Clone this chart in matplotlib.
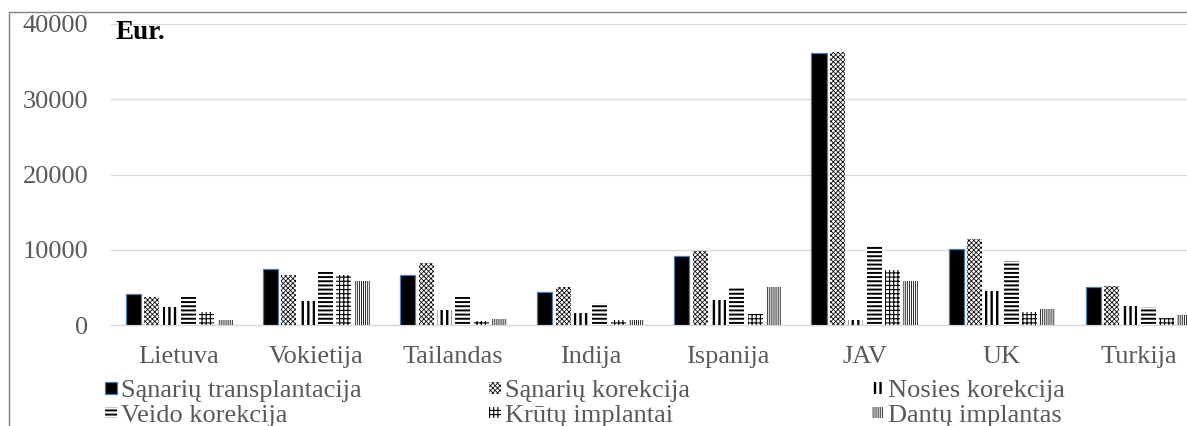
import matplotlib
matplotlib.use("Agg")
import matplotlib.pyplot as plt
import numpy as np
from matplotlib.lines import Line2D
from matplotlib.patches import Rectangle
from matplotlib.legend_handler import HandlerPatch

# ---------------- data ----------------
countries = ["Lietuva", "Vokietija", "Tailandas", "Indija", "Ispanija", "JAV", "UK", "Turkija"]
series_names = ["Sąnarių transplantacija", "Sąnarių korekcija", "Nosies korekcija",
                "Veido korekcija", "Krūtų implantai", "Dantų implantas"]
sanariu_transplantacija = [4100, 7500, 6700, 4400, 9200, 36200, 10100, 5100]
sanariu_korekcija = [3700, 6600, 8300, 5000, 9800, 36300, 11400, 5200]
nosies_korekcija = [2400, 3200, 2000, 1600, 3300, 600, 4500, 2500]
veido_korekcija = [3700, 7100, 3700, 2900, 5000, 10500, 8500, 2400]
krutu_implantai = [1700, 6600, 500, 700, 1400, 7300, 1700, 900]
dantu_implantas = [700, 5900, 800, 600, 5000, 5900, 2100, 1300]
yticks = [0, 10000, 20000, 30000, 40000]
unit_label = "Eur."

series_values = [sanariu_transplantacija, sanariu_korekcija, nosies_korekcija,
                 veido_korekcija, krutu_implantai, dantu_implantas]

# ---------------- styles ----------------
plt.rcParams['font.family'] = ['Liberation Serif', 'DejaVu Serif']
W, H = 1187, 426
DPI = 100
FS = 19
GRAY_TXT = '#595959'

styles = [
    dict(facecolor='black', edgecolor='#4f7cad', linewidth=0.9, hatch=None, hlw=1.0),
    dict(facecolor='white', edgecolor='black', linewidth=0, hatch='xxxxxxx', hlw=0.55),
    dict(facecolor='white', edgecolor='black', linewidth=0, hatch='|||', hlw=1.7),
    dict(facecolor='white', edgecolor='black', linewidth=0, hatch='----', hlw=1.4),
    dict(facecolor='white', edgecolor='black', linewidth=0, hatch='++++', hlw=0.8),
    dict(facecolor='white', edgecolor='black', linewidth=0, hatch='||||||||', hlw=0.6),
]

fig = plt.figure(figsize=(W / DPI, H / DPI), dpi=DPI)
fig.patch.set_facecolor('white')

stride = 137.1
left_px = 110.5
x_right = (W - left_px) / stride
ax = fig.add_axes([left_px / W, 1 - 325 / H, 1 - left_px / W, (325 - 24) / H])

x = np.arange(len(countries))
group_off = 0.113
slot = 0.1338
bar_w = 0.1095

containers = []
for k, (name, vals) in enumerate(zip(series_names, series_values)):
    st = styles[k]
    with plt.rc_context({'hatch.linewidth': st['hlw']}):
        bc = ax.bar(x + group_off + k * slot, vals, width=bar_w, align='edge',
                    facecolor=st['facecolor'], edgecolor=st['edgecolor'],
                    linewidth=st['linewidth'], hatch=st['hatch'], label=name, zorder=3)
    for p in bc.patches:
        if hasattr(p, 'set_hatch_linewidth'):
            p.set_hatch_linewidth(st['hlw'])
    containers.append(bc)

ax.set_xlim(0, x_right)
ax.set_ylim(0, 40000)
ax.set_yticks(yticks)
ax.set_yticklabels([str(v) for v in yticks])
ax.set_xticks(x + 0.5)
ax.set_xticklabels(countries)
ax.tick_params(axis='y', length=0, pad=16, labelsize=FS, labelcolor=GRAY_TXT)
ax.tick_params(axis='x', length=0, pad=15, labelsize=FS, labelcolor=GRAY_TXT)
ax.yaxis.grid(True, color='#d9d9d9', linewidth=0.9, zorder=0)
ax.set_axisbelow(True)
for s in ['top', 'right', 'left']:
    ax.spines[s].set_visible(False)
ax.spines['bottom'].set_color('#d9d9d9')
ax.spines['bottom'].set_linewidth(0.9)
for gl in ax.yaxis.get_gridlines():
    gl.set_clip_on(False)

fig.text(115 / W, 1 - 39 / H, unit_label, fontsize=FS + 0.5, fontweight='bold',
         color='black', ha='left', va='baseline')

# outer frame (partial, as in the cropped original)
fig.add_artist(Line2D([8.5 / W, 8.5 / W], [0, 1 - 11.7 / H], transform=fig.transFigure,
                      color='#808080', linewidth=1.0))
fig.add_artist(Line2D([8.5 / W, 1.0], [1 - 11.7 / H, 1 - 11.7 / H], transform=fig.transFigure,
                      color='#808080', linewidth=1.0))

# legend
hatch_lw = {name: styles[k]['hlw'] for k, name in enumerate(series_names)}


def make_patch(legend, orig_handle, xdescent, ydescent, width, height, fontsize):
    p = Rectangle(xy=(-xdescent, -ydescent), width=width, height=height)
    return p


class HatchHandler(HandlerPatch):
    def update_prop(self, legend_handle, orig_handle, legend):
        super().update_prop(legend_handle, orig_handle, legend)
        if hasattr(legend_handle, 'set_hatch_linewidth'):
            legend_handle.set_hatch_linewidth(hatch_lw[orig_handle.get_label()])


handles = [c.patches[0] for c in containers]
for h, n in zip(handles, series_names):
    h.set_label(n)
col_x = [105, 489, 872]
for c in range(3):
    hs = [handles[c], handles[c + 3]]
    ls = [series_names[c], series_names[c + 3]]
    leg = fig.legend(hs, ls, loc='upper left',
                     bbox_to_anchor=(col_x[c] / W, 1 - 380.5 / H),
                     bbox_transform=fig.transFigure,
                     frameon=False, fontsize=FS, borderpad=0, borderaxespad=0,
                     handlelength=0.46, handleheight=0.3, handletextpad=0.15,
                     labelspacing=0.1, labelcolor=GRAY_TXT,
                     handler_map={Rectangle: HatchHandler(patch_func=make_patch)})

fig.savefig('out.png', dpi=DPI, facecolor='white')
